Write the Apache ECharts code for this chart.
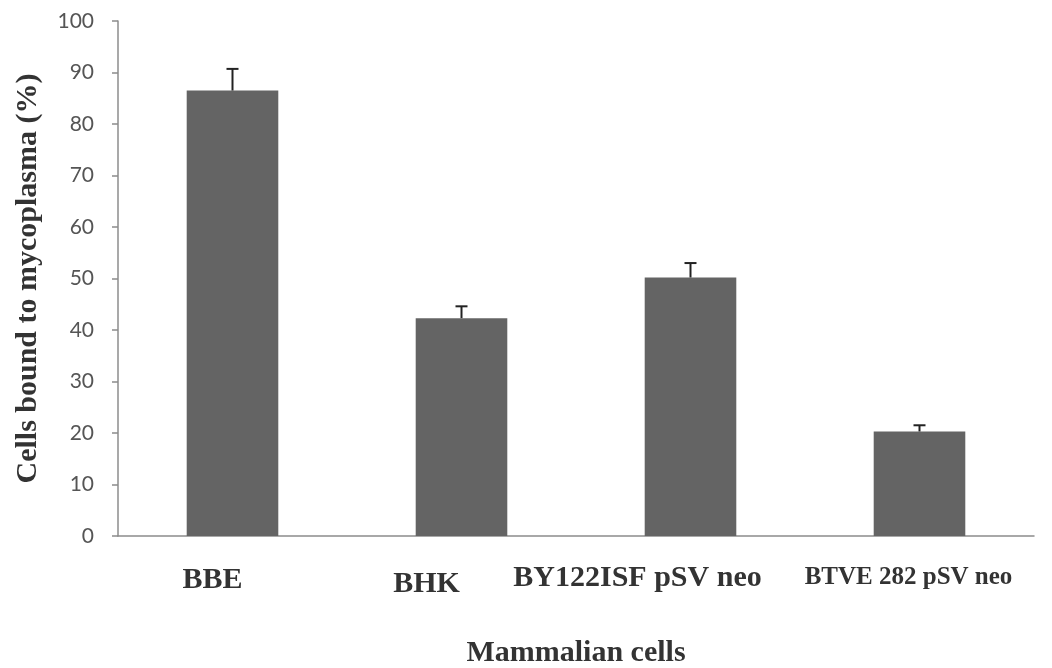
<!DOCTYPE html>
<html>
<head>
<meta charset="utf-8">
<script src="https://cdn.jsdelivr.net/npm/echarts@6/dist/echarts.min.js"></script>
<style>html,body{margin:0;padding:0;background:#fff}#c{width:1052px;height:668px}</style>
</head>
<body>
<div id="c"></div>
<script>
const categories = ['BBE', 'BHK', 'BY122ISF pSV neo', 'BTVE 282 pSV neo'];
const values = [86.5, 42.3, 50.2, 20.3];
const errors = [4.2, 2.3, 2.8, 1.2];
const yTicks = [0, 10, 20, 30, 40, 50, 60, 70, 80, 90, 100];
const labelStyles = ['a', 'b', 'c', 'd'];

const chart = echarts.init(document.getElementById('c'));
const serif = '"Liberation Serif", "Times New Roman", serif';
chart.setOption({
  animation: false,
  backgroundColor: '#ffffff',
  grid: { left: 118, right: 18, top: 21, bottom: 132, containLabel: false, outerBoundsMode: 'none' },
  xAxis: {
    type: 'category',
    data: categories,
    name: 'Mammalian cells',
    nameLocation: 'middle',
    nameGap: 102,
    nameTextStyle: { fontFamily: serif, fontWeight: 'bold', fontSize: 30, color: '#333' },
    axisLine: { lineStyle: { color: '#8c8c8c', width: 1.5 } },
    axisTick: { show: false },
    axisLabel: {
      interval: 0,
      margin: 4,
      formatter: function (v, i) { return '{' + labelStyles[i] + '|' + v + '}'; },
      rich: {
        a: { fontFamily: serif, fontWeight: 'bold', fontSize: 30, lineHeight: 30, color: '#333', padding: [50, 40, 0, 0] },
        b: { fontFamily: serif, fontWeight: 'bold', fontSize: 30, lineHeight: 30, color: '#333', padding: [59, 70, 0, 0] },
        c: { fontFamily: serif, fontWeight: 'bold', fontSize: 30, lineHeight: 30, color: '#333', padding: [46, 106, 0, 0] },
        d: { fontFamily: serif, fontWeight: 'bold', fontSize: 25, lineHeight: 25, color: '#333', padding: [50, 22, 0, 0] }
      }
    }
  },
  yAxis: {
    type: 'value',
    min: 0, max: 100, interval: 10,
    name: 'Cells bound to mycoplasma (%)',
    nameLocation: 'middle',
    nameGap: 75,
    nameTextStyle: { fontFamily: serif, fontWeight: 'bold', fontSize: 30, color: '#333' },
    axisLine: { show: true, lineStyle: { color: '#8c8c8c', width: 1.5 } },
    axisTick: { show: true, length: 6, lineStyle: { color: '#8c8c8c', width: 1.5 } },
    splitLine: { show: false },
    axisLabel: {
      margin: 24,
      fontFamily: 'Lato, "Open Sans", sans-serif',
      fontSize: 21,
      color: '#555',
      formatter: function (v) { return yTicks.indexOf(v) >= 0 ? String(v) : ''; }
    }
  },
  series: [
    {
      type: 'bar',
      data: values,
      barCategoryGap: '60%',
      itemStyle: { color: '#646464' }
    },
    {
      type: 'custom',
      data: values.map(function (v, i) { return [i, v, v + errors[i]]; }),
      renderItem: function (params, api) {
        const x = api.value(0);
        const p0 = api.coord([x, api.value(1)]);
        const p1 = api.coord([x, api.value(2)]);
        const hw = 6;
        const style = { stroke: '#222', lineWidth: 2 };
        return {
          type: 'group',
          children: [
            { type: 'line', shape: { x1: p0[0], y1: p0[1], x2: p1[0], y2: p1[1] }, style: style },
            { type: 'line', shape: { x1: p1[0] - hw, y1: p1[1], x2: p1[0] + hw, y2: p1[1] }, style: style }
          ]
        };
      },
      z: 5
    }
  ]
});
</script>
</body>
</html>
